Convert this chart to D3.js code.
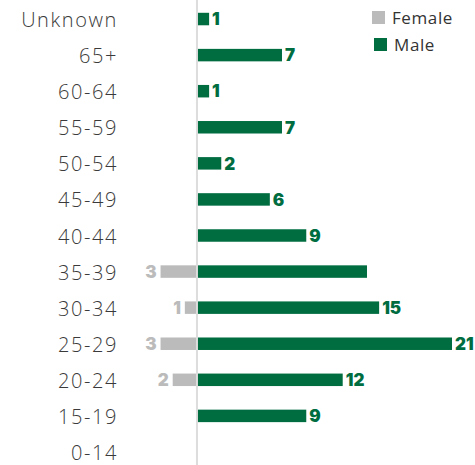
<!DOCTYPE html>
<html><head><meta charset="utf-8">
<script src="https://cdn.jsdelivr.net/npm/d3@7"></script>
<style>body{margin:0;background:#fff}svg{display:block}</style>
</head><body>
<script>
const categories = ["Unknown","65+","60-64","55-59","50-54","45-49","40-44","35-39","30-34","25-29","20-24","15-19","0-14"];
const maleValues = [1,7,1,7,2,6,9,14,15,21,12,9,0];
const femaleValues = [0,0,0,0,0,0,0,3,1,3,2,0,0];
const maleLabels = ["1","7","1","7","2","6","9","","15","21","12","9",""];
const seriesNames = ["Female","Male"];
const colors = {Female:"#bbbbbb", Male:"#006d41"};

const W=475,H=465;
const svg=d3.select("body").append("svg").attr("width",W).attr("height",H);
const x=d3.scaleLinear().domain([-16.22,21]).range([0,452]);
const y=d3.scaleBand().domain(categories).range([1,470]).paddingInner(0.654).paddingOuter(0.327);

svg.append("line").attr("x1",x(0)).attr("x2",x(0)).attr("y1",0).attr("y2",H)
  .attr("stroke","#dddddd").attr("stroke-width",2);

const lblFont="'Open Sans', sans-serif";
svg.selectAll(".cat").data(categories).join("text")
  .attr("x",118).attr("y",d=>y(d)+y.bandwidth()/2).attr("dy","0.4em")
  .attr("text-anchor","end").attr("font-family",lblFont).attr("font-weight",300)
  .attr("font-size",20).attr("letter-spacing","1.6px").attr("fill","#3a3a3a").text(d=>d);

const mdata=categories.map((c,i)=>({c,v:maleValues[i],l:maleLabels[i]}));
const fdata=categories.map((c,i)=>({c,v:femaleValues[i]}));

svg.selectAll(".m").data(mdata.filter(d=>d.v>0)).join("rect")
  .attr("x",x(0)+1).attr("y",d=>y(d.c)).attr("height",y.bandwidth())
  .attr("width",d=>x(d.v)-x(0)-1).attr("fill",colors.Male);
svg.selectAll(".f").data(fdata.filter(d=>d.v>0)).join("rect")
  .attr("x",d=>x(-d.v)).attr("y",d=>y(d.c)).attr("height",y.bandwidth())
  .attr("width",d=>x(0)-x(-d.v)-1).attr("fill",colors.Female);

const valFont="Inter, 'Open Sans', sans-serif";
svg.selectAll(".ml").data(mdata.filter(d=>d.l)).join("text")
  .attr("x",d=>x(d.v)+3).attr("y",d=>y(d.c)+y.bandwidth()/2).attr("dy","0.37em")
  .attr("font-family",valFont).attr("font-weight",900).attr("font-size",17)
  .attr("fill",colors.Male).text(d=>d.l);
svg.selectAll(".fl").data(fdata.filter(d=>d.v>0)).join("text")
  .attr("x",d=>x(-d.v)-4).attr("y",d=>y(d.c)+y.bandwidth()/2).attr("dy","0.37em")
  .attr("text-anchor","end")
  .attr("font-family",valFont).attr("font-weight",900).attr("font-size",17)
  .attr("fill",colors.Female).text(d=>d.v);

const leg=svg.append("g");
seriesNames.forEach((s,i)=>{
  const g=leg.append("g").attr("transform",`translate(${372+i*2},${11+i*27})`);
  g.append("rect").attr("width",13).attr("height",13).attr("fill",colors[s]);
  g.append("text").attr("x",20).attr("y",6.5).attr("dy","0.36em")
   .attr("font-family",lblFont).attr("font-weight",400).attr("font-size",17)
   .attr("letter-spacing","0.6px").attr("fill","#333").text(s);
});
</script>
</body></html>
